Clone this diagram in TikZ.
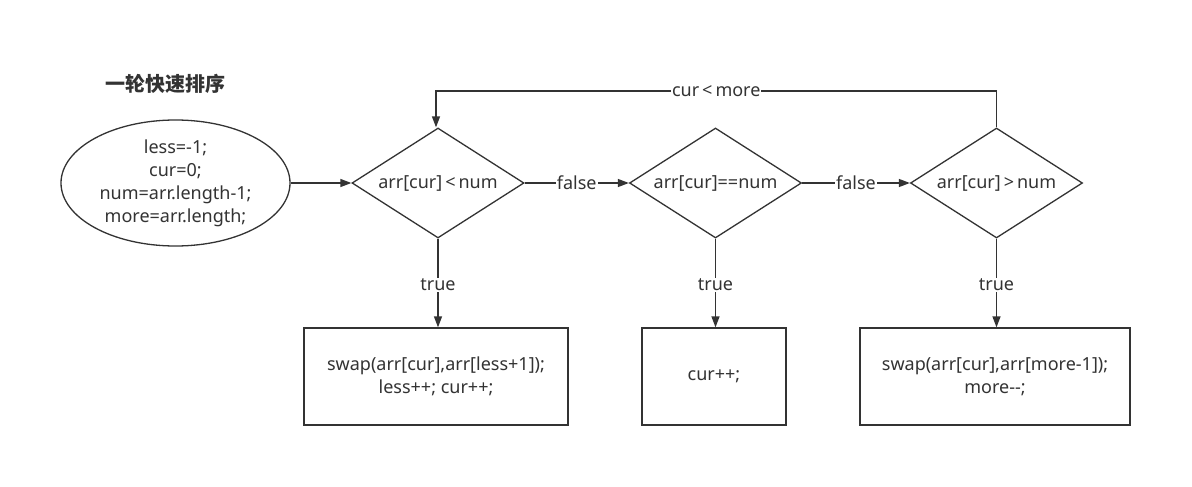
\documentclass[tikz,border=0pt]{standalone}
\usepackage{fontspec}
\setmainfont{Noto Sans}
\newfontfamily\cjk{Noto Sans CJK SC}
\usetikzlibrary{shapes.geometric,arrows.meta}
\definecolor{ink}{HTML}{333333}
\begin{document}
\begin{tikzpicture}[x=1pt,y=-1pt,
  every node/.style={text=ink,font=\fontsize{18}{23}\selectfont},
  line/.style={draw=ink,line width=1.3pt},
  arr/.style={line,-{Triangle[length=11pt,width=8pt]}},
  dia/.style={line,diamond,minimum width=172pt,minimum height=110pt,inner sep=0pt},
  procbox/.style={line,rectangle,minimum height=97pt,align=center,inner sep=0pt},
  lbl/.style={fill=white,inner sep=1pt}]
\useasboundingbox[fill=white] (0,0) rectangle (1192,487);
\node[font=\cjk\bfseries\fontsize{20}{24}\selectfont,text=ink] (title) at (165,84) {一轮快速排序};
\node[line,ellipse,minimum width=229pt,minimum height=126pt,align=center,inner sep=0pt] (init) at (175.5,183)
  {less=-1;\\cur=0;\\num=arr.length-1;\\more=arr.length;};
\node[dia,label=center:{arr[cur]\,<\,num}] (d1) at (438,183) {};
\node[dia,label=center:{arr[cur]==num}] (d2) at (715.5,183) {};
\node[dia,label=center:{arr[cur]\,>\,num}] (d3) at (996.5,183) {};
\node[procbox,minimum width=264pt] (b1) at (436,376.5) {swap(arr[cur],arr[less+1]);\\less++; cur++;};
\node[procbox,minimum width=144pt] (b2) at (714,376.5) {cur++;};
\node[procbox,minimum width=270pt] (b3) at (995,376.5) {swap(arr[cur],arr[more-1]);\\more-{}-;};
\coordinate (c1) at (996.5,91);
\coordinate (c2) at (436,91);
\draw[arr] (init.east) -- (d1.west);
\draw[arr] (d1.east) -- node[lbl]{false} (d2.west);
\draw[arr] (d2.east) -- node[lbl]{false} (d3.west);
\draw[arr] (d1.south) -- node[lbl,pos=0.52]{true} (d1.south |- b1.north);
\draw[arr] (d2.south) -- node[lbl,pos=0.52]{true} (d2.south |- b2.north);
\draw[arr] (d3.south) -- node[lbl,pos=0.52]{true} (d3.south |- b3.north);
\draw[arr] (d3.north) -- (c1) -- node[lbl,pos=0.5]{cur\,<\,more} (c2) -- (c2 |- d1.north);
\end{tikzpicture}
\end{document}
